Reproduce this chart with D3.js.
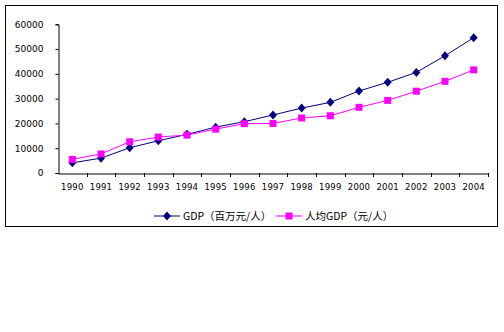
<!DOCTYPE html>
<html><head><meta charset="utf-8">
<script src="https://cdn.jsdelivr.net/npm/d3@7"></script>
<style>body{margin:0;background:#fff}svg{display:block}</style>
</head><body>
<script>
const years = ["1990","1991","1992","1993","1994","1995","1996","1997","1998","1999","2000","2001","2002","2003","2004"];
const gdp = [4100,6000,10200,13000,15600,18500,20700,23400,26200,28500,33100,36600,40600,47300,54600];
const gdpPerCapita = [5500,7700,12600,14500,15300,17700,19900,20000,22200,23100,26500,29300,33000,37000,41600];
const yTicks = [0,10000,20000,30000,40000,50000,60000];
const seriesNames = ["GDP（百万元/人）","人均GDP（元/人）"];

const W=504,H=332;
const svg=d3.select("body").append("svg").attr("width",W).attr("height",H);
svg.append("rect").attr("x",5.5).attr("y",5.5).attr("width",492).attr("height",221).attr("fill","#fff").attr("stroke","#000").attr("stroke-width",1);

const x=d3.scaleBand().domain(years).range([58,488]);
const y=d3.scaleLinear().domain([0,60000]).range([173,24.3]);

const fontNum="'DejaVu Sans', sans-serif";
const gy=svg.append("g").attr("transform","translate(58.5,0)")
  .call(d3.axisLeft(y).tickValues(yTicks).tickSize(3).tickPadding(12).tickFormat(d3.format("d")));
gy.select(".domain").attr("stroke","#000");
gy.selectAll("text").attr("font-family",fontNum).attr("font-size","9px").attr("fill","#000");

const gx=svg.append("g").attr("transform","translate(0,173.5)")
  .call(d3.axisBottom(x).tickSize(0).tickPadding(10));
gx.select(".domain").attr("stroke","#000");
gx.selectAll("text").attr("font-family",fontNum).attr("font-size","8.5px").attr("fill","#000").attr("letter-spacing","0.2px");
svg.append("g").selectAll("line").data(years).join("line")
  .attr("x1",d=>Math.round(x(d)+x.bandwidth())+0.5).attr("x2",d=>Math.round(x(d)+x.bandwidth())+0.5)
  .attr("y1",173).attr("y2",177).attr("stroke","#000");

const cx=d=>x(d)+x.bandwidth()/2;
const line1=d3.line().x((d,i)=>cx(years[i])).y(d=>y(d));
svg.append("path").attr("d",line1(gdp)).attr("fill","none").attr("stroke","#000080").attr("stroke-width",1);
svg.append("path").attr("d",line1(gdpPerCapita)).attr("fill","none").attr("stroke","#FF00FF").attr("stroke-width",1);

const diamondPath="M0,-4.5L4,0L0,4.5L-4,0Z";
svg.append("g").selectAll("path").data(gdp).join("path")
  .attr("d",diamondPath).attr("transform",(d,i)=>`translate(${cx(years[i])},${y(d)})`).attr("fill","#000080");
svg.append("g").selectAll("rect").data(gdpPerCapita).join("rect")
  .attr("x",(d,i)=>cx(years[i])-3.5).attr("y",d=>y(d)-3.5).attr("width",7).attr("height",7).attr("fill","#FF00FF");

const lg=svg.append("g");
const ly=216;
lg.append("line").attr("x1",154).attr("x2",180).attr("y1",ly).attr("y2",ly).attr("stroke","#000080");
lg.append("path").attr("d",diamondPath).attr("transform",`translate(167,${ly})`).attr("fill","#000080");
lg.append("text").attr("x",183).attr("y",ly+4).text(seriesNames[0]).attr("font-family","'Noto Sans CJK SC', sans-serif").attr("font-size","10.5px");
lg.append("line").attr("x1",276).attr("x2",302).attr("y1",ly).attr("y2",ly).attr("stroke","#FF00FF");
lg.append("rect").attr("x",285.5).attr("y",ly-3.5).attr("width",7).attr("height",7).attr("fill","#FF00FF");
lg.append("text").attr("x",305).attr("y",ly+4).text(seriesNames[1]).attr("font-family","'Noto Sans CJK SC', sans-serif").attr("font-size","10.5px");
</script>
</body></html>
